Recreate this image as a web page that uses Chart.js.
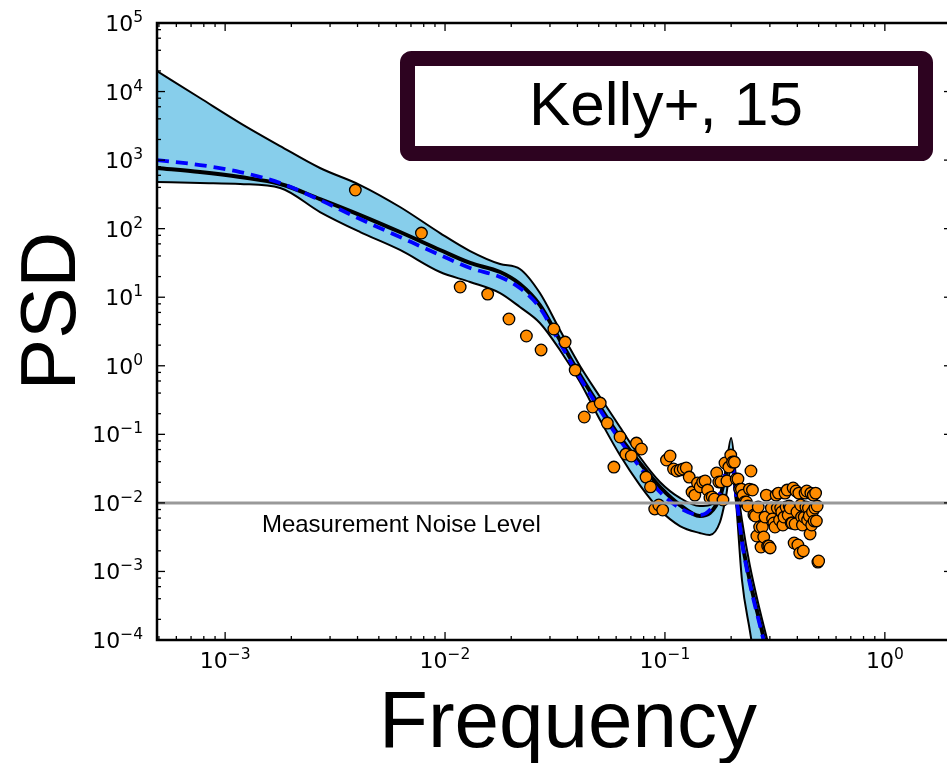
<!DOCTYPE html>
<html>
<head>
<meta charset="utf-8">
<title>Kelly+, 15 PSD</title>
<script src="https://cdn.jsdelivr.net/npm/chart.js@4.4.1/dist/chart.umd.min.js"></script>
<style>
  html, body { margin: 0; padding: 0; background: #fff; overflow: hidden; }
  #wrap { width: 947px; height: 763px; overflow: hidden; }
</style>
</head>
<body>
<div id="wrap"><canvas id="chart" width="960" height="763"></canvas></div>
<script>
// psd of the light curve, model band and periodogram, log-log

const curve_freq = [0.00049, 0.000769, 0.00117, 0.00178, 0.00270, 0.00411, 0.00624, 0.00949,
  0.0130, 0.0178, 0.0219, 0.0270, 0.0333, 0.0411, 0.0507, 0.0624, 0.0769, 0.0949,
  0.117, 0.144, 0.160, 0.178, 0.189, 0.200, 0.210, 0.224, 0.243, 0.270, 0.300, 0.333];

// upper / lower edge of the shaded band
const band_upper = [19900, 8050, 3475, 1603, 767, 433, 207, 86.3,
  47.2, 30.5, 25.8, 11.5, 3.32, 0.993, 0.350, 0.128, 0.0467, 0.0202,
  0.0118, 0.00899, 0.00931, 0.0135, 0.0302, 0.0883, 0.0255, 0.00562, 0.00124, 2.74e-4, 7.14e-5, 1.87e-5];
const band_lower = [479, 463, 448, 392, 175, 89.3, 48.9, 23.3,
  16.7, 11.5, 7.19, 4.21, 1.70, 0.579, 0.162, 0.0499, 0.0182, 0.00787,
  0.00460, 0.00364, 0.00340, 0.00526, 0.0118, 0.0323, 0.0110, 7.50e-4, 1.40e-4, 1.87e-5, 3.48e-6, 6.49e-7];

// solid black median and blue dashed curve
const median_psd = [767, 670, 566, 448, 270, 158, 89.3, 48.9,
  31.6, 23.3, 15.6, 7.69, 2.38, 0.733, 0.250, 0.0914, 0.0382, 0.0171,
  0.00931, 0.00644, 0.00711, 0.0122, 0.0255, 0.0552, 0.0154, 0.00288, 7.50e-4, 1.83e-4, 4.78e-5, 1.33e-5];
const dashed_psd = [1000, 848, 670, 463, 262, 138, 75.5, 41.3,
  26.7, 19.7, 13.6, 6.97, 2.15, 0.664, 0.226, 0.0826, 0.0333, 0.0144,
  0.00841, 0.00665, 0.00787, 0.0139, 0.0282, 0.0452, 0.0144, 0.00269, 6.78e-4, 1.66e-4, 4.32e-5, 1.13e-5];

// periodogram points (orange)
const pgram_freq = [0.00391, 0.00781, 0.01172, 0.01563, 0.01953, 0.02344, 0.02734, 0.03125,
  0.03516, 0.03906, 0.04297, 0.04688, 0.05078, 0.05469, 0.05859, 0.0625,
  0.06641, 0.07031, 0.07422, 0.07813, 0.08203, 0.08594, 0.08984, 0.09375,
  0.09766, 0.1016, 0.1055, 0.1094, 0.1133, 0.1172, 0.1211, 0.125,
  0.1289, 0.1328, 0.1367, 0.1406, 0.1445, 0.1484, 0.1523, 0.1563,
  0.1602, 0.1641, 0.168, 0.1719, 0.1758, 0.1797, 0.1836, 0.1875,
  0.1914, 0.1953, 0.1992, 0.2031, 0.207, 0.2109, 0.2148, 0.2188,
  0.2227, 0.2266, 0.2305, 0.2344, 0.2383, 0.2422, 0.2461, 0.25,
  0.2539, 0.2578, 0.2617, 0.2656, 0.2695, 0.2734, 0.2773, 0.2813,
  0.2852, 0.2891, 0.293, 0.2969, 0.3008, 0.3047, 0.3086, 0.3125,
  0.3164, 0.3203, 0.3242, 0.3281, 0.332, 0.3359, 0.3398, 0.3438,
  0.3477, 0.3516, 0.3555, 0.3594, 0.3633, 0.3672, 0.3711, 0.375,
  0.3789, 0.3828, 0.3867, 0.3906, 0.3945, 0.3984, 0.4023, 0.4063,
  0.4102, 0.4141, 0.418, 0.4219, 0.4258, 0.4297, 0.4336, 0.4375,
  0.4414, 0.4453, 0.4492, 0.4531, 0.457, 0.4609, 0.4648, 0.4688,
  0.4727, 0.4766, 0.4805, 0.4844, 0.4883, 0.4922, 0.4961, 0.5];
const pgram_psd = [366, 86.3, 14.1, 11.1, 4.81, 2.72, 1.70, 3.44,
  2.22, 0.867, 0.179, 0.250, 0.286, 0.146, 0.0333, 0.0914,
  0.0516, 0.0483, 0.0746, 0.0611, 0.0238, 0.0171, 0.00815, 0.00931,
  0.00787, 0.0422, 0.0483, 0.0312, 0.0292, 0.0302, 0.0312, 0.0323,
  0.0238, 0.0144, 0.0130, 0.0195, 0.0171, 0.0202, 0.0209, 0.0154,
  0.0118, 0.0122, 0.0114, 0.0273, 0.0202, 0.0202, 0.0110, 0.0382,
  0.0209, 0.0333, 0.0499, 0.0394, 0.0394, 0.0223, 0.0223, 0.0159,
  0.0159, 0.0130, 0.0103, 0.0103, 0.00899, 0.0159, 0.0292, 0.0154,
  0.00665, 0.00644, 0.00329, 0.00871, 0.00445, 0.00227, 0.00445, 0.00318,
  0.00622, 0.0130, 0.00235, 0.00235, 0.00220, 0.00841, 0.00582, 0.00509,
  0.00445, 0.0130, 0.00841, 0.0139, 0.00562, 0.00841, 0.00736, 0.00475,
  0.00622, 0.0139, 0.00871, 0.0154, 0.00665, 0.00899, 0.00841, 0.00509,
  0.00509, 0.0165, 0.00260, 0.00492, 0.0149, 0.00736, 0.00243, 0.0139,
  0.00186, 0.00931, 0.00622, 0.00475, 0.00199, 0.00622, 0.0139, 0.00871,
  0.0149, 0.00562, 0.00841, 0.00644, 0.00352, 0.0139, 0.00475, 0.00736,
  0.0130, 0.00545, 0.00841, 0.0139, 0.00545, 0.00899, 0.00137, 0.00142];

// measurement noise level
const noise_level = 0.01;
const noise_label = "Measurement Noise Level";
const noise_label_at = [0.00147, 0.00376];

// axes
const x_range = [0.00049, 2.02];
const y_range = [1e-4, 1e5];
const x_major = [1e-3, 1e-2, 1e-1, 1e0];
const x_exponents = ["\u22123", "\u22122", "\u22121", "0"];
const y_major = [1e-4, 1e-3, 1e-2, 1e-1, 1e0, 1e1, 1e2, 1e3, 1e4, 1e5];
const y_exponents = ["\u22124", "\u22123", "\u22122", "\u22121", "0", "1", "2", "3", "4", "5"];
const x_minor_subs = [2, 3, 4, 5, 6, 7, 8, 9];
const y_minor_subs = [2, 4, 6, 8];

const title_text = "Kelly+, 15";
const x_title = "Frequency";
const y_title = "PSD";

// zip two arrays into {x, y} points
function pts(xs, ys) {
  return xs.map((x, i) => ({ x: x, y: ys[i] }));
}

// draws the matplotlib-ish frame, inward ticks, labels and the title box
const frame_plugin = {
  id: "frame",
  afterDatasetsDraw(chart) {
    const ctx = chart.ctx;
    const a = chart.chartArea;
    const xs = chart.scales.x;
    const ys = chart.scales.y;
    ctx.save();

    // noise label
    ctx.fillStyle = "#000";
    ctx.font = "24px 'Liberation Sans'";
    ctx.textAlign = "left";
    ctx.textBaseline = "alphabetic";
    ctx.fillText(noise_label, xs.getPixelForValue(noise_label_at[0]), ys.getPixelForValue(noise_label_at[1]));

    // ticks
    ctx.strokeStyle = "#000";
    ctx.lineWidth = 1.3;
    const tick = (x1, y1, x2, y2) => {
      ctx.beginPath(); ctx.moveTo(x1, y1); ctx.lineTo(x2, y2); ctx.stroke();
    };
    for (let e = -4; e <= 0; e++) {
      const d = Math.pow(10, e);
      for (const s of [1].concat(x_minor_subs)) {
        const v = s * d;
        if (v < x_range[0] || v > x_range[1]) continue;
        const px = xs.getPixelForValue(v);
        const len = s === 1 ? 8 : 4;
        tick(px, a.bottom, px, a.bottom - len);
        tick(px, a.top, px, a.top + len);
      }
    }
    for (let e = -4; e <= 5; e++) {
      const d = Math.pow(10, e);
      for (const s of [1].concat(y_minor_subs)) {
        const v = s * d;
        if (v < y_range[0] || v > y_range[1]) continue;
        const py = ys.getPixelForValue(v);
        const len = s === 1 ? 8 : 4;
        tick(a.left, py, a.left + len, py);
        tick(a.right, py, a.right - len, py);
      }
    }

    // spines
    ctx.lineWidth = 2.5;
    ctx.strokeRect(a.left, a.top, a.right - a.left, a.bottom - a.top);

    // tick labels, 10 with a raised exponent
    const base_font = "22px 'DejaVu Sans'";
    const exp_font = "15.5px 'DejaVu Sans'";
    ctx.textBaseline = "alphabetic";
    ctx.textAlign = "left";
    y_major.forEach((v, i) => {
      const py = ys.getPixelForValue(v);
      ctx.font = exp_font;
      const ew = ctx.measureText(y_exponents[i]).width;
      ctx.font = base_font;
      const bw = ctx.measureText("10").width;
      const right = a.left - 14;
      ctx.fillText("10", right - ew - bw, py + 8);
      ctx.font = exp_font;
      ctx.fillText(y_exponents[i], right - ew, py - 1);
    });
    x_major.forEach((v, i) => {
      const px = xs.getPixelForValue(v);
      ctx.font = exp_font;
      const ew = ctx.measureText(x_exponents[i]).width;
      ctx.font = base_font;
      const bw = ctx.measureText("10").width;
      const left = px - (ew + bw) / 2;
      ctx.fillText("10", left, a.bottom + 28);
      ctx.font = exp_font;
      ctx.fillText(x_exponents[i], left + bw, a.bottom + 19);
    });

    // axis titles
    ctx.font = "80px 'Liberation Sans'";
    ctx.textAlign = "center";
    ctx.fillText(x_title, 568, 747);
    ctx.save();
    ctx.translate(75, 311);
    ctx.rotate(-Math.PI / 2);
    ctx.font = "77px 'Liberation Sans'";
    ctx.fillText(y_title, 0, 0);
    ctx.restore();

    // title box
    ctx.fillStyle = "#fff";
    ctx.strokeStyle = "#2d0320";
    ctx.lineWidth = 15;
    ctx.lineJoin = "round";
    ctx.beginPath();
    ctx.roundRect(407.5, 58.5, 518, 95, 4);
    ctx.fill();
    ctx.stroke();
    ctx.fillStyle = "#000";
    ctx.font = "62px 'Liberation Sans'";
    ctx.textAlign = "center";
    ctx.fillText(title_text, 666, 125);

    ctx.restore();
  }
};

const curve_style = {
  pointRadius: 0,
  cubicInterpolationMode: "monotone",
};

const chart = new Chart(document.getElementById("chart").getContext("2d"), {
  type: "line",
  data: {
    datasets: [
      {
        label: "noise",
        data: pts(x_range, [noise_level, noise_level]),
        borderColor: "#999999",
        borderWidth: 3,
        pointRadius: 0,
        order: 0
      },
      {
        label: "periodogram",
        data: pts(pgram_freq, pgram_psd),
        showLine: false,
        pointRadius: 5.8,
        pointBackgroundColor: "#ff8c00",
        pointBorderColor: "#000",
        pointBorderWidth: 1.3,
        order: 1
      },
      Object.assign({
        label: "dashed",
        data: pts(curve_freq, dashed_psd),
        borderColor: "#0000ff",
        borderWidth: 3.8,
        borderDash: [12, 7],
        order: 2
      }, curve_style),
      Object.assign({
        label: "median",
        data: pts(curve_freq, median_psd),
        borderColor: "#000",
        borderWidth: 4,
        order: 3
      }, curve_style),
      Object.assign({
        label: "upper",
        data: pts(curve_freq, band_upper),
        borderColor: "#000",
        borderWidth: 2,
        fill: "+1",
        backgroundColor: "#87ceeb",
        order: 5
      }, curve_style),
      Object.assign({
        label: "lower",
        data: pts(curve_freq, band_lower),
        borderColor: "#000",
        borderWidth: 2,
        order: 4
      }, curve_style)
    ]
  },
  options: {
    responsive: false,
    animation: false,
    layout: { padding: { left: 157, top: 23, right: 8, bottom: 123 } },
    plugins: {
      legend: { display: false },
      tooltip: { enabled: false }
    },
    scales: {
      x: {
        type: "logarithmic",
        display: false,
        bounds: "data",
        min: x_range[0],
        max: x_range[1]
      },
      y: {
        type: "logarithmic",
        display: false,
        bounds: "data",
        min: y_range[0],
        max: y_range[1]
      }
    }
  },
  plugins: [frame_plugin]
});
</script>
</body>
</html>
